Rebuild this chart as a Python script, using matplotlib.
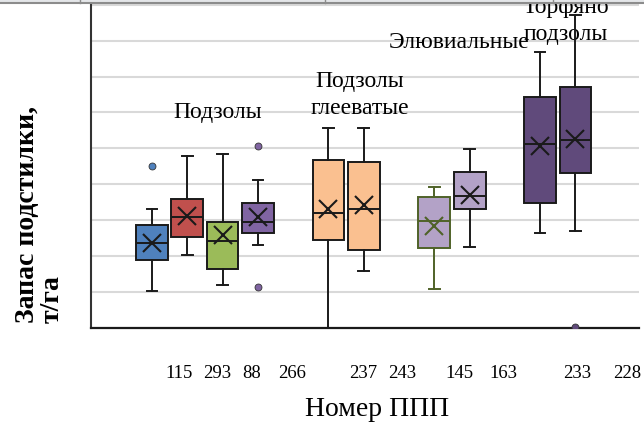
import matplotlib.pyplot as plt
from matplotlib.patches import Rectangle
from matplotlib.lines import Line2D

# box statistics (t/ha, one grid step = 1)
positions = [0, 1, 2, 3, 5, 6, 8, 9, 11, 12]
q1 = [1.90, 2.54, 1.64, 2.64, 2.46, 2.18, 2.24, 3.30, 3.47, 4.31]
med = [2.37, 3.08, 2.42, 2.96, 3.19, 3.31, 2.97, 3.67, 5.13, 5.24]
q3 = [2.87, 3.59, 2.96, 3.47, 4.69, 4.62, 3.64, 4.35, 6.44, 6.72]
mean = [2.38, 3.13, 2.59, 3.08, 3.31, 3.43, 2.85, 3.70, 5.08, 5.26]
whislo = [1.04, 2.03, 1.21, 2.31, 0.0, 1.60, 1.09, 2.25, 2.64, 2.71]
whishi = [3.31, 4.78, 4.85, 4.13, 5.56, 5.56, 3.92, 4.97, 7.68, 8.72]
fliers = [[4.50], [], [], [5.08, 1.15], [], [], [], [], [], [0.02]]
fill_colors = ['#4F81BD', '#C0504D', '#9BBB59', '#8064A2', '#FAC090',
               '#FAC090', '#B3A2C7', '#B3A2C7', '#604A7B', '#604A7B']
edge_colors = ['#1a1a1a'] * 6 + ['#4F6228'] + ['#1a1a1a'] * 3

tick_pos = [0.76, 1.84, 2.83, 3.97, 5.98, 7.08, 8.70, 9.97, 12.04, 13.46]
tick_labels = ['115', '293', '88', '266', '237', '243', '145', '163', '233', '228']

groups = ['Подзолы', 'Подзолы\nглееватые', 'Элювиальные', 'Торфяно\nподзолы']
group_x = [1.87, 5.89, 8.70, 11.73]
group_y = [6.04, 6.52, 7.99, 8.58]

plt.rcParams['font.family'] = ['Liberation Serif', 'DejaVu Serif']

fig = plt.figure(figsize=(6.44, 4.31), dpi=100)
ax = fig.add_axes([91 / 644, 1 - 329 / 431, (639 - 91) / 644, 329 / 431])

for i in range(len(positions)):
    stats = [{'med': med[i], 'q1': q1[i], 'q3': q3[i], 'mean': mean[i],
              'whislo': whislo[i], 'whishi': whishi[i], 'fliers': fliers[i]}]
    ec = edge_colors[i]
    ax.bxp(stats, positions=[positions[i]], widths=0.9, patch_artist=True,
           showmeans=True, manage_ticks=False, zorder=3,
           boxprops=dict(facecolor=fill_colors[i], edgecolor=ec, linewidth=1.4),
           medianprops=dict(color=ec, linewidth=1.4),
           whiskerprops=dict(color=ec, linewidth=1.4),
           capprops=dict(color=ec, linewidth=1.4),
           capwidths=0.3,
           meanprops=dict(marker='x', markeredgecolor=ec, markersize=13, markeredgewidth=1.5),
           flierprops=dict(marker='o', markerfacecolor=fill_colors[i], markeredgecolor='#333333',
                           markersize=5, markeredgewidth=0.6))

for name, x, y in zip(groups, group_x, group_y):
    ax.text(x, y, name, ha='center', va='center', fontsize=17, linespacing=1.35, zorder=1)

ax.set_xlim(-1.73, 13.8)
ax.set_ylim(0, 9.16)
ax.set_yticks(range(1, 10))
ax.yaxis.grid(True, color='#d9d9d9', linewidth=1.5, zorder=0)
ax.set_axisbelow(True)
ax.tick_params(axis='y', length=0, labelleft=False)
ax.set_xticks(tick_pos)
ax.set_xticklabels(tick_labels, fontsize=13.5)
ax.tick_params(axis='x', length=0, pad=26)
for s in ['top', 'right']:
    ax.spines[s].set_visible(False)
ax.spines['left'].set_color('#333333')
ax.spines['left'].set_linewidth(1.5)
ax.spines['bottom'].set_color('#1a1a1a')
ax.spines['bottom'].set_linewidth(1.6)

fig.text(377 / 644, 1 - 410 / 431, 'Номер ППП', ha='center', va='center', fontsize=20)
fig.text(40 / 644, 1 - 323 / 431, 'Запас подстилки,\nт/га', rotation=90, ha='center',
         va='bottom', multialignment='left', fontsize=20, fontweight='bold', linespacing=0.95)

# grey table border cut off at the top of the screenshot
fig.patches.append(Rectangle((0, 1 - 4 / 431), 1, 4 / 431, transform=fig.transFigure,
                             facecolor='#e4e6e9', edgecolor='none', zorder=10))
fig.lines.append(Line2D([0, 1], [1 - 4 / 431, 1 - 4 / 431], transform=fig.transFigure,
                        color='#8c8c8c', linewidth=1.5, zorder=11))
for xv in [80, 325, 553]:
    fig.lines.append(Line2D([xv / 644, xv / 644], [1 - 4 / 431, 1], transform=fig.transFigure,
                            color='#8c8c8c', linewidth=1.0, zorder=11))

fig.savefig('out.png', dpi=100)
